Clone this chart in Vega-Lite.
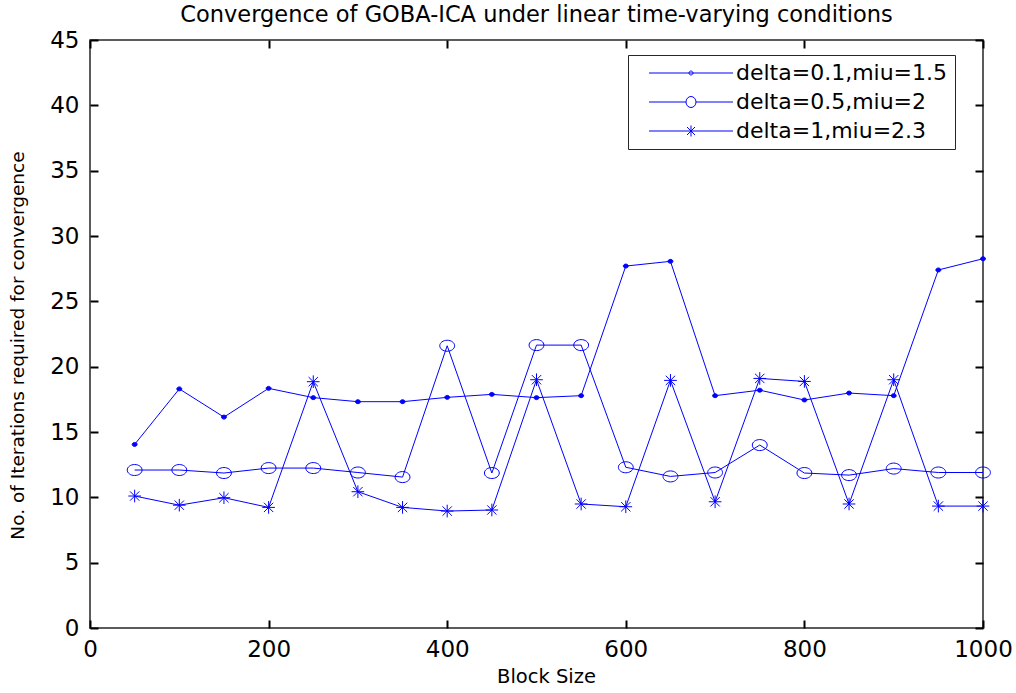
{
  "$schema": "https://vega.github.io/schema/vega-lite/v6.json",
  "width": 893,
  "height": 588,
  "autosize": {"type": "none"},
  "padding": {"left": 90, "top": 40, "right": 33, "bottom": 65},
  "background": "white",
  "title": {
    "text": "Convergence of GOBA-ICA under linear time-varying conditions",
    "font": "DejaVu Sans",
    "fontSize": 22.5,
    "fontWeight": "normal",
    "color": "#000000",
    "anchor": "middle",
    "offset": 3
  },
  "config": {
    "view": {"stroke": "#262626", "strokeWidth": 1.5},
    "axis": {
      "grid": false,
      "labelFlush": false,
      "labelFont": "DejaVu Sans",
      "labelFontSize": 23,
      "labelColor": "#000000",
      "titleFont": "DejaVu Sans",
      "titleFontWeight": "normal",
      "titleColor": "#000000"
    }
  },
  "data": {
    "values": [
      {"block": 50, "iterations": 14.05, "series": "delta=0.1,miu=1.5"},
      {"block": 100, "iterations": 18.3, "series": "delta=0.1,miu=1.5"},
      {"block": 150, "iterations": 16.14, "series": "delta=0.1,miu=1.5"},
      {"block": 200, "iterations": 18.34, "series": "delta=0.1,miu=1.5"},
      {"block": 250, "iterations": 17.63, "series": "delta=0.1,miu=1.5"},
      {"block": 300, "iterations": 17.32, "series": "delta=0.1,miu=1.5"},
      {"block": 350, "iterations": 17.32, "series": "delta=0.1,miu=1.5"},
      {"block": 400, "iterations": 17.65, "series": "delta=0.1,miu=1.5"},
      {"block": 450, "iterations": 17.88, "series": "delta=0.1,miu=1.5"},
      {"block": 500, "iterations": 17.63, "series": "delta=0.1,miu=1.5"},
      {"block": 550, "iterations": 17.78, "series": "delta=0.1,miu=1.5"},
      {"block": 600, "iterations": 27.7, "series": "delta=0.1,miu=1.5"},
      {"block": 650, "iterations": 28.06, "series": "delta=0.1,miu=1.5"},
      {"block": 700, "iterations": 17.78, "series": "delta=0.1,miu=1.5"},
      {"block": 750, "iterations": 18.2, "series": "delta=0.1,miu=1.5"},
      {"block": 800, "iterations": 17.45, "series": "delta=0.1,miu=1.5"},
      {"block": 850, "iterations": 17.98, "series": "delta=0.1,miu=1.5"},
      {"block": 900, "iterations": 17.78, "series": "delta=0.1,miu=1.5"},
      {"block": 950, "iterations": 27.4, "series": "delta=0.1,miu=1.5"},
      {"block": 1000, "iterations": 28.26, "series": "delta=0.1,miu=1.5"},
      {"block": 50, "iterations": 12.09, "series": "delta=0.5,miu=2"},
      {"block": 100, "iterations": 12.09, "series": "delta=0.5,miu=2"},
      {"block": 150, "iterations": 11.86, "series": "delta=0.5,miu=2"},
      {"block": 200, "iterations": 12.24, "series": "delta=0.5,miu=2"},
      {"block": 250, "iterations": 12.24, "series": "delta=0.5,miu=2"},
      {"block": 300, "iterations": 11.9, "series": "delta=0.5,miu=2"},
      {"block": 350, "iterations": 11.55, "series": "delta=0.5,miu=2"},
      {"block": 400, "iterations": 21.6, "series": "delta=0.5,miu=2"},
      {"block": 450, "iterations": 11.86, "series": "delta=0.5,miu=2"},
      {"block": 500, "iterations": 21.65, "series": "delta=0.5,miu=2"},
      {"block": 550, "iterations": 21.65, "series": "delta=0.5,miu=2"},
      {"block": 600, "iterations": 12.3, "series": "delta=0.5,miu=2"},
      {"block": 650, "iterations": 11.6, "series": "delta=0.5,miu=2"},
      {"block": 700, "iterations": 11.9, "series": "delta=0.5,miu=2"},
      {"block": 750, "iterations": 14.0, "series": "delta=0.5,miu=2"},
      {"block": 800, "iterations": 11.86, "series": "delta=0.5,miu=2"},
      {"block": 850, "iterations": 11.7, "series": "delta=0.5,miu=2"},
      {"block": 900, "iterations": 12.2, "series": "delta=0.5,miu=2"},
      {"block": 950, "iterations": 11.9, "series": "delta=0.5,miu=2"},
      {"block": 1000, "iterations": 11.9, "series": "delta=0.5,miu=2"},
      {"block": 50, "iterations": 10.1, "series": "delta=1,miu=2.3"},
      {"block": 100, "iterations": 9.4, "series": "delta=1,miu=2.3"},
      {"block": 150, "iterations": 9.97, "series": "delta=1,miu=2.3"},
      {"block": 200, "iterations": 9.23, "series": "delta=1,miu=2.3"},
      {"block": 250, "iterations": 18.85, "series": "delta=1,miu=2.3"},
      {"block": 300, "iterations": 10.43, "series": "delta=1,miu=2.3"},
      {"block": 350, "iterations": 9.23, "series": "delta=1,miu=2.3"},
      {"block": 400, "iterations": 8.95, "series": "delta=1,miu=2.3"},
      {"block": 450, "iterations": 9.03, "series": "delta=1,miu=2.3"},
      {"block": 500, "iterations": 19.0, "series": "delta=1,miu=2.3"},
      {"block": 550, "iterations": 9.49, "series": "delta=1,miu=2.3"},
      {"block": 600, "iterations": 9.28, "series": "delta=1,miu=2.3"},
      {"block": 650, "iterations": 18.95, "series": "delta=1,miu=2.3"},
      {"block": 700, "iterations": 9.66, "series": "delta=1,miu=2.3"},
      {"block": 750, "iterations": 19.1, "series": "delta=1,miu=2.3"},
      {"block": 800, "iterations": 18.87, "series": "delta=1,miu=2.3"},
      {"block": 850, "iterations": 9.49, "series": "delta=1,miu=2.3"},
      {"block": 900, "iterations": 19.0, "series": "delta=1,miu=2.3"},
      {"block": 950, "iterations": 9.33, "series": "delta=1,miu=2.3"},
      {"block": 1000, "iterations": 9.33, "series": "delta=1,miu=2.3"}
    ]
  },
  "layer": [
    {
      "mark": {"type": "line", "color": "#0000ff", "strokeWidth": 1},
      "encoding": {
        "x": {
          "field": "block", "type": "quantitative",
          "scale": {"domain": [0, 1000], "nice": false, "zero": false},
          "axis": {"orient": "bottom", "values": [0, 200, 400, 600, 800, 1000], "format": "d", "title": "Block Size", "titleFontSize": 19.5, "labelPadding": 10, "titlePadding": 6, "titleX": 456, "ticks": true, "tickColor": "#000000", "tickWidth": 2, "tickSize": 8, "offset": -8, "domainOpacity": 0}
        },
        "y": {
          "field": "iterations", "type": "quantitative",
          "scale": {"domain": [0, 45], "nice": false},
          "axis": {"orient": "left", "values": [0, 5, 10, 15, 20, 25, 30, 35, 40, 45], "title": "No. of Iterations required for convergence", "titleFontSize": 18.5, "labelPadding": 11, "titlePadding": 22, "titleY": 305, "ticks": true, "tickColor": "#000000", "tickWidth": 2, "tickSize": 8, "offset": -8, "domainOpacity": 0}
        },
        "detail": {"field": "series"},
        "order": {"field": "block"}
      }
    },
    {
      "mark": {"type": "point", "stroke": "#0000ff", "strokeWidth": 1, "size": 121, "opacity": 1},
      "encoding": {
        "x": {
          "field": "block", "type": "quantitative",
          "axis": {"orient": "top", "values": [0, 200, 400, 600, 800, 1000], "labels": false, "title": null, "ticks": true, "tickColor": "#000000", "tickWidth": 2, "tickSize": 8, "offset": -8, "domainOpacity": 0}
        },
        "y": {
          "field": "iterations", "type": "quantitative",
          "axis": {"orient": "right", "values": [0, 5, 10, 15, 20, 25, 30, 35, 40, 45], "labels": false, "title": null, "ticks": true, "tickColor": "#000000", "tickWidth": 2, "tickSize": 8, "offset": -8, "domainOpacity": 0}
        },
        "shape": {
          "field": "series", "type": "nominal",
          "scale": {
            "domain": ["delta=0.1,miu=1.5", "delta=0.5,miu=2", "delta=1,miu=2.3"],
            "range": [
              "M-0.45,0A0.45,0.36,0,1,1,0.45,0A0.45,0.36,0,1,1,-0.45,0Z",
              "M-1.35,0A1.35,1,0,1,1,1.35,0A1.35,1,0,1,1,-1.35,0Z",
              "M0,-1.15V1.15M-1.15,0H1.15M-0.85,-0.85L0.85,0.85M-0.85,0.85L0.85,-0.85"
            ]
          },
          "legend": null
        },
        "fill": {
          "condition": {"test": "datum.series === 'delta=0.1,miu=1.5'", "value": "#0000ff"},
          "value": "transparent"
        }
      }
    },
    {
      "mark": {"type": "point", "opacity": 0, "size": 100, "color": "#0000ff"},
      "encoding": {
        "x": {"field": "block", "type": "quantitative", "axis": null},
        "y": {"field": "iterations", "type": "quantitative", "axis": null},
        "shape": {
          "field": "series", "type": "nominal",
          "scale": {
            "domain": ["delta=0.1,miu=1.5", "delta=0.5,miu=2", "delta=1,miu=2.3"],
            "range": [
              "M-8.4,0H8.4M-0.4,0A0.4,0.4,0,1,1,0.4,0A0.4,0.4,0,1,1,-0.4,0Z",
              "M-8.4,0H-1M1,0H8.4M-1,0A1,1.1,0,1,1,1,0A1,1.1,0,1,1,-1,0Z",
              "M-8.4,0H8.4M0,-1.1V1.1M-0.8,-0.8L0.8,0.8M-0.8,0.8L0.8,-0.8"
            ]
          },
          "legend": {
            "title": null,
            "orient": "none",
            "legendX": 538,
            "legendY": 15,
            "strokeColor": "#262626",
            "fillColor": "#ffffff",
            "padding": 7,
            "symbolOffset": 45,
            "labelOffset": 34,
            "rowPadding": 7,
            "labelLimit": 0,
            "labelFont": "DejaVu Sans",
            "labelFontSize": 22,
            "labelColor": "#000000",
            "labelExpr": "datum.label + '\u00a0\u00a0\u00a0'",
            "symbolSize": 100,
            "symbolStrokeColor": "#0000ff",
            "symbolStrokeWidth": 1,
            "encode": {
              "symbols": {
                "update": {
                  "opacity": {"value": 1},
                  "stroke": {"value": "#0000ff"},
                  "strokeWidth": {"value": 1},
                  "size": {"value": 100},
                  "fill": {"signal": "datum.value === 'delta=0.1,miu=1.5' ? '#0000ff' : 'transparent'"}
                }
              }
            }
          }
        }
      }
    }
  ],
  "resolve": {
    "scale": {"shape": "independent"},
    "axis": {"x": "independent", "y": "independent"},
    "legend": {"shape": "independent"}
  }
}
